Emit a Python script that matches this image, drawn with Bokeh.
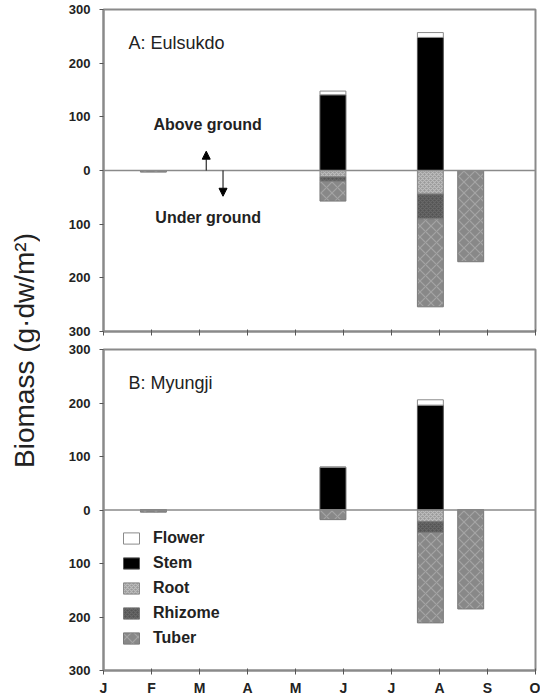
import math
from bokeh.plotting import figure
from bokeh.models import (Range1d, FixedTicker, Span, Label, Arrow, NormalHead,
                          Legend, LegendItem, ColumnDataSource)
from bokeh.layouts import row, column
from bokeh.embed import file_html
from bokeh.resources import INLINE
from bokeh.core.properties import value

# ---------------- data ----------------
month_labels = ["J", "F", "M", "A", "M", "J", "J", "A", "S", "O"]
sample_month = [1.04, 4.78, 6.81, 7.65]      # sampling dates (months after 1 Jan)
y_ticks = [-300, -200, -100, 0, 100, 200, 300]

# Panel A: Eulsukdo (g dw / m2)
a_flower = [0, 7, 9, 0]
a_stem = [0, 141, 248, 0]
a_root = [0, 12, 44, 0]
a_rhizome = [0, 8, 46, 0]
a_tuber = [3, 37, 164, 170]

# Panel B: Myungji (g dw / m2)
b_flower = [0, 0, 10, 0]
b_stem = [0, 80, 196, 0]
b_root = [0, 0, 22, 0]
b_rhizome = [0, 0, 20, 0]
b_tuber = [4, 18, 169, 185]

parts = ["Flower", "Stem", "Root", "Rhizome", "Tuber"]

# ---------------- styles ----------------
FONT = "Liberation Sans"
AXC = "#8a8a8a"
BAR_W = 0.54
STY = {
    "Flower": dict(fill_color="white", line_color="#8a8a8a"),
    "Stem": dict(fill_color="black", line_color="#555555"),
    "Root": dict(fill_color="#999999", line_color="#8a8a8a", hatch_pattern="x", hatch_color="#bdbdbd", hatch_scale=4),
    "Rhizome": dict(fill_color="#545454", line_color="#7a7a7a", hatch_pattern="x", hatch_color="#686868", hatch_scale=4),
    "Tuber": dict(fill_color="#888888", line_color="#7a7a7a", hatch_pattern="x", hatch_color="#a4a4a4", hatch_scale=11),
}
UNDER = ["Root", "Rhizome", "Tuber"]


def panel(label, flower, stem, root, rhizome, tuber, height, b_top, b_bottom, x_labels, annotate, legend):
    p = figure(width=500, height=height, x_range=Range1d(0, 9), y_range=Range1d(-300, 300),
               output_backend="svg", toolbar_location=None,
               min_border_left=63, min_border_right=5, min_border_top=b_top, min_border_bottom=b_bottom)
    p.xgrid.visible = False
    p.ygrid.visible = False
    p.outline_line_color = AXC
    p.outline_line_width = 2
    p.background_fill_color = "white"

    src = ColumnDataSource(dict(
        x=sample_month, flower=flower, stem=stem,
        root=[-v for v in root], rhizome=[-v for v in rhizome], tuber=[-v for v in tuber]))

    r_above = p.vbar_stack(["stem", "flower"], x="x", width=BAR_W, source=src,
                           fill_color=[STY["Stem"]["fill_color"], STY["Flower"]["fill_color"]],
                           line_color=[STY["Stem"]["line_color"], STY["Flower"]["line_color"]],
                           line_width=1)
    r_below = p.vbar_stack(["root", "rhizome", "tuber"], x="x", width=BAR_W, source=src,
                           fill_color=[STY[k]["fill_color"] for k in UNDER],
                           line_color=[STY[k]["line_color"] for k in UNDER],
                           hatch_pattern=[STY[k]["hatch_pattern"] for k in UNDER],
                           hatch_color=[STY[k]["hatch_color"] for k in UNDER],
                           hatch_scale=[STY[k]["hatch_scale"] for k in UNDER],
                           hatch_weight=1.2, line_width=1)

    p.add_layout(Span(location=0, dimension="width", line_color=AXC, line_width=1.5))

    # axes
    p.yaxis.ticker = FixedTicker(ticks=y_ticks)
    p.yaxis.major_label_overrides = {t: str(abs(t)) for t in y_ticks}
    p.xaxis.ticker = FixedTicker(ticks=list(range(10)))
    if x_labels:
        p.xaxis.major_label_overrides = {i: m for i, m in enumerate(month_labels)}
        p.xaxis.major_label_text_font_size = "14px"
    else:
        p.xaxis.major_label_overrides = {i: "" for i in range(10)}
        p.xaxis.major_label_text_font_size = "0px"
        p.xaxis.major_label_standoff = 0
    for ax in (p.xaxis[0], p.yaxis[0]):
        ax.axis_line_color = AXC
        ax.axis_line_width = 2
        ax.major_tick_line_color = "#555555"
        ax.major_tick_line_width = 1
        ax.minor_tick_line_color = None
        ax.major_label_text_font = FONT
        ax.major_label_text_font_style = "bold"
        ax.major_label_text_color = "#222222"
    p.yaxis.major_label_text_font_size = "13px"
    p.yaxis.major_tick_out = 4
    p.yaxis.major_tick_in = 0
    p.yaxis.major_label_standoff = 9
    p.xaxis.major_tick_out = 4
    p.xaxis.major_tick_in = 2

    p.add_layout(Label(x=0.52, y=237, text=label, text_font=FONT, text_font_size="18px",
                       text_baseline="middle", text_color="#222222"))

    if annotate:
        p.add_layout(Label(x=1.04, y=85, text="Above ground", text_font=FONT, text_font_size="16px",
                           text_font_style="bold", text_baseline="middle", text_color="#222222"))
        p.add_layout(Label(x=1.08, y=-88, text="Under ground", text_font=FONT, text_font_size="16px",
                           text_font_style="bold", text_baseline="middle", text_color="#222222"))
        p.add_layout(Arrow(end=NormalHead(size=8, fill_color="black", line_color="black"),
                           x_start=2.14, y_start=0, x_end=2.14, y_end=36, line_width=1, line_color="black"))
        p.add_layout(Arrow(end=NormalHead(size=8, fill_color="black", line_color="black"),
                           x_start=2.49, y_start=0, x_end=2.49, y_end=-48, line_width=1, line_color="black"))

    if legend:
        rmap = {"Flower": r_above[1], "Stem": r_above[0], "Root": r_below[0],
                "Rhizome": r_below[1], "Tuber": r_below[2]}
        leg = Legend(items=[LegendItem(label=k, renderers=[rmap[k]]) for k in parts],
                     location=(18, 22), orientation="vertical",
                     glyph_width=20, glyph_height=14, label_standoff=12, spacing=5,
                     label_height=20, padding=0, margin=0,
                     border_line_color=None, background_fill_alpha=0,
                     label_text_font=FONT, label_text_font_size="16px",
                     label_text_font_style="bold", label_text_color="#222222")
        p.add_layout(leg)
    return p


pA = panel("A: Eulsukdo", a_flower, a_stem, a_root, a_rhizome, a_tuber,
           height=340, b_top=9, b_bottom=9, x_labels=False, annotate=True, legend=False)
pB = panel("B: Myungji", b_flower, b_stem, b_root, b_rhizome, b_tuber,
           height=360, b_top=9, b_bottom=30, x_labels=True, annotate=False, legend=True)

# y-axis title shared by both panels
pl = figure(width=40, height=700, x_range=Range1d(0, 40), y_range=Range1d(0, 700),
            output_backend="svg", toolbar_location=None, x_axis_type=None, y_axis_type=None,
            min_border=0)
pl.outline_line_color = None
pl.xgrid.visible = False
pl.ygrid.visible = False
pl.text(x=[24], y=[350], text=["Biomass (g\u00b7dw/m\u00b2)"], angle=math.pi / 2,
        text_align="center", text_baseline="middle", text_font=value(FONT),
        text_font_size="28px", text_color="#222222")

layout = row(pl, column(pA, pB))
open("out.html", "w").write(file_html(layout, INLINE))
